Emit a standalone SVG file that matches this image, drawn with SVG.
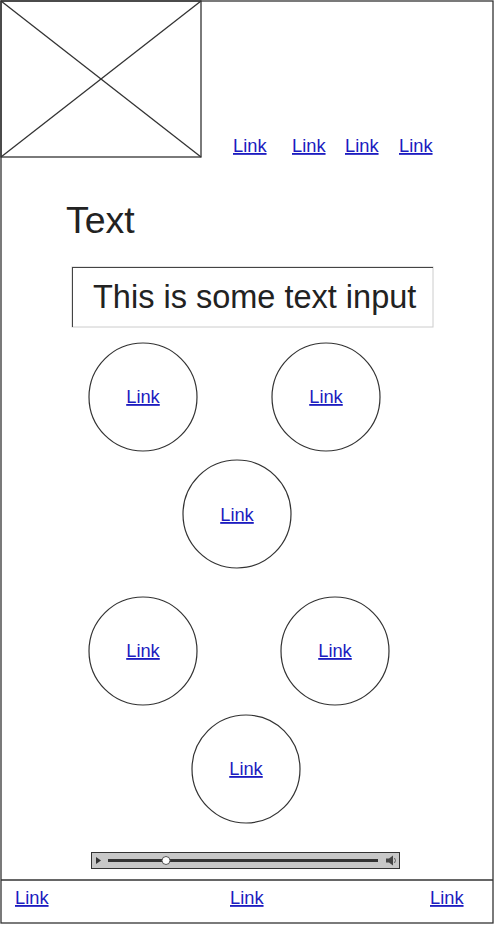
<svg xmlns="http://www.w3.org/2000/svg" width="495" height="929" viewBox="0 0 495 929">
<style>
.frame{fill:none;stroke:#333;stroke-width:1.3}
.circ{fill:#fff;stroke:#333;stroke-width:1.2}
.link{font-family:"Liberation Sans",Arial,sans-serif;font-size:18.3px;fill:#1c1cc0;text-decoration:underline}
.txt{font-family:"Liberation Sans",Arial,sans-serif;fill:#222}
</style>
<rect width="495" height="929" fill="#fff"/>
<g id="frame">
<rect class="frame" x="1" y="1" width="492" height="922"/>
<line class="frame" x1="1" y1="880" x2="493" y2="880"/>
</g>
<g id="image">
<rect class="frame" x="1" y="1" width="200" height="156"/>
<line class="frame" x1="1" y1="1" x2="201" y2="157"/>
<line class="frame" x1="201" y1="1" x2="1" y2="157"/>
</g>
<g id="nav">
<text class="link" x="233" y="152">Link</text>
<text class="link" x="292" y="152">Link</text>
<text class="link" x="345" y="152">Link</text>
<text class="link" x="399" y="152">Link</text>
</g>
<g id="title"><text class="txt" x="66" y="233" font-size="37.5">Text</text></g>
<g id="input">
<rect x="72" y="267" width="361" height="60" fill="#fff" stroke="#ccc" stroke-width="1"/>
<line x1="72" y1="267.5" x2="433" y2="267.5" stroke="#444" stroke-width="1"/>
<line x1="72.5" y1="267" x2="72.5" y2="327" stroke="#444" stroke-width="1"/>
<text class="txt" x="93" y="308" font-size="32.5">This is some text input</text>
</g>
<g id="c1"><circle class="circ" cx="143" cy="397" r="54"/><text class="link" x="143" y="403" text-anchor="middle">Link</text></g>
<g id="c2"><circle class="circ" cx="326" cy="397" r="54"/><text class="link" x="326" y="403" text-anchor="middle">Link</text></g>
<g id="c3"><circle class="circ" cx="237" cy="514" r="54"/><text class="link" x="237" y="521" text-anchor="middle">Link</text></g>
<g id="c4"><circle class="circ" cx="143" cy="651" r="54"/><text class="link" x="143" y="657" text-anchor="middle">Link</text></g>
<g id="c5"><circle class="circ" cx="335" cy="651" r="54"/><text class="link" x="335" y="657" text-anchor="middle">Link</text></g>
<g id="c6"><circle class="circ" cx="246" cy="769" r="54"/><text class="link" x="246" y="775" text-anchor="middle">Link</text></g>
<g id="player">
<rect x="91.5" y="852.5" width="308" height="16" fill="#c8c8c8" stroke="#333" stroke-width="1"/>
<polygon points="96,857 101,860.5 96,864" fill="#333"/>
<line x1="108" y1="860.5" x2="378" y2="860.5" stroke="#333" stroke-width="3"/>
<circle cx="166" cy="860.5" r="4" fill="#fff" stroke="#555" stroke-width="1"/>
<polygon points="386,858.5 389,858.5 393,855.5 393,865.5 389,862.5 386,862.5" fill="#444"/>
<path d="M394.5,858 Q396.5,860.5 394.5,863" fill="none" stroke="#444" stroke-width="0.8"/>
</g>
<g id="footer">
<text class="link" x="15" y="904">Link</text>
<text class="link" x="230" y="904">Link</text>
<text class="link" x="430" y="904">Link</text>
</g>
</svg>
